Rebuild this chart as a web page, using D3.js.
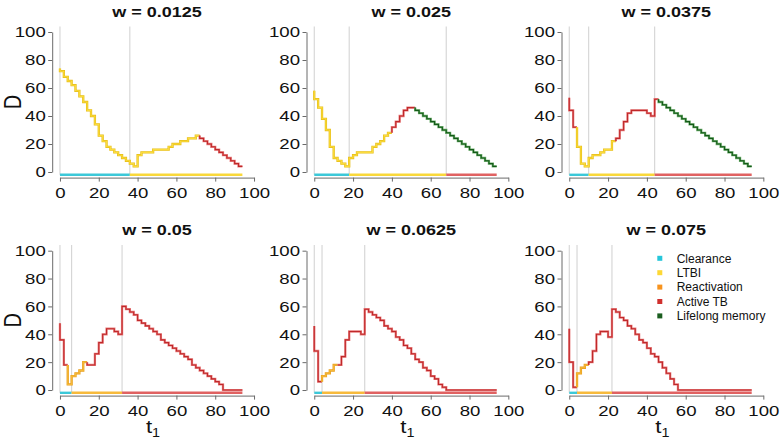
<!DOCTYPE html>
<html><head><meta charset="utf-8">
<script src="https://cdn.jsdelivr.net/npm/d3@7/dist/d3.min.js"></script>
<style>
html,body{margin:0;padding:0;background:#fff;}
svg{display:block;font-family:"Liberation Sans",Arial,sans-serif;}
</style></head>
<body>
<svg id="chart" width="781" height="447"></svg>
<script>
// ---------- DATA ----------
const panelTitles = ["w = 0.0125", "w = 0.025", "w = 0.0375", "w = 0.05", "w = 0.0625", "w = 0.075"];
const stepTimes = [0,2,4,6,8,10,12,14,16,18,20,22,24,26,28,30,32,34,36,38,40,42,44,46,48,50,52,54,56,58,60,62,64,66,68,70,72,74,76,78,80,82,84,86,88,90,92];
const endTime = 94;
const xTicks = [0,20,40,60,80,100];
const yTicks = [0,20,40,60,80,100];

const startD = [74, 58, 53, 48, 46, 44];

const D_w0125 = [72,68,65,62,58,54,50,44,40,34,26,22,18,16,14,12,10,8,6,4,12,14,14,14,16,16,16,16,18,20,20,22,22,24,24,26,24,22,20,18,16,14,12,10,8,6,4];
const D_w025  = [52,46,38,30,18,10,8,6,4,10,12,14,14,14,14,18,20,22,26,28,32,36,40,44,46,46,44,42,40,38,36,34,32,30,28,26,24,22,20,18,16,14,12,10,8,6,4];
const D_w0375 = [44,32,18,6,4,10,12,12,14,16,16,22,24,30,36,42,44,44,44,44,42,40,52,50,48,46,44,42,40,38,36,34,32,30,28,26,24,22,20,18,16,14,12,10,8,6,4];
const D_w05   = [36,18,4,10,12,14,20,18,18,26,34,40,44,44,42,40,60,58,56,54,50,48,46,44,42,40,36,34,32,30,28,26,24,22,18,16,14,12,10,8,6,4,0,0,0,0,0];
const D_w0625 = [28,6,10,12,14,18,18,24,36,42,42,42,40,58,56,54,52,50,46,44,42,38,36,32,30,26,22,20,16,14,10,8,4,2,0,0,0,0,0,0,0,0,0,0,0,0,0];
const D_w075  = [20,2,12,16,18,20,28,40,42,42,38,58,56,52,50,46,44,40,36,34,30,26,24,20,16,12,8,4,0,0,0,0,0,0,0,0,0,0,0,0,0,0,0,0,0,0,0];

// phase of the line from a given time on
const phases_w0125 = [[0,"LTBI"],[72,"Active TB"]];
const phases_w025  = [[0,"LTBI"],[40,"Active TB"],[52,"Lifelong memory"]];
const phases_w0375 = [[0,"Active TB"],[4,"LTBI"],[24,"Active TB"],[46,"Lifelong memory"]];
const phases_w05   = [[0,"Active TB"],[4,"Reactivation"],[14,"Active TB"]];
const phases_w0625 = [[0,"Active TB"],[4,"Reactivation"],[12,"Active TB"]];
const phases_w075  = [[0,"Active TB"],[4,"Reactivation"],[10,"Active TB"]];

// bottom outcome band: [from, to, state]
const band_w0125 = [[0,36,"Clearance"],[36,94,"LTBI"]];
const band_w025  = [[0,18,"Clearance"],[18,68,"LTBI"],[68,94,"Active TB"]];
const band_w0375 = [[0,10,"Clearance"],[10,44,"LTBI"],[44,94,"Active TB"]];
const band_w05   = [[0,6,"Clearance"],[6,32,"Reactivation"],[32,94,"Active TB"]];
const band_w0625 = [[0,4,"Clearance"],[4,26,"Reactivation"],[26,94,"Active TB"]];
const band_w075  = [[0,4,"Clearance"],[4,22,"Reactivation"],[22,94,"Active TB"]];

// vertical reference lines
const grid_w0125 = [0,36];
const grid_w025  = [0,18,68];
const grid_w0375 = [0,10,44];
const grid_w05   = [0,6,32];
const grid_w0625 = [0,4,26];
const grid_w075  = [0,4,22];

const legendLabels = ["Clearance","LTBI","Reactivation","Active TB","Lifelong memory"];
const legendColors = ["#26c6da","#fdd835","#f7931e","#d0302e","#1b5e20"];

// ---------- STYLE ----------
const lineStyle = {
  "LTBI":            {under:"#e6bd16", over:"#fbdc3c"},
  "Reactivation":    {under:"#e89e1c", over:"#f6b938"},
  "Active TB":       {under:"#e98080", over:"#c0282a"},
  "Lifelong memory": {under:"#6cae6c", over:"#145a18"}
};
const bandColor = {"Clearance":"#3cc8d8","LTBI":"#f9d83a","Reactivation":"#f7ba3c","Active TB":"#e06262"};

const SX = 1.2; // horizontal text stretch
const colLeft = [52.2, 306.5, 561.5];
const rowTop = [26.4, 245.1];
const rowBottom = [177.6, 395.6];
const plotW = 209.6;

const panels = [
  {title:panelTitles[0], d0:startD[0], D:D_w0125, phases:phases_w0125, band:band_w0125, grid:grid_w0125},
  {title:panelTitles[1], d0:startD[1], D:D_w025,  phases:phases_w025,  band:band_w025,  grid:grid_w025},
  {title:panelTitles[2], d0:startD[2], D:D_w0375, phases:phases_w0375, band:band_w0375, grid:grid_w0375},
  {title:panelTitles[3], d0:startD[3], D:D_w05,   phases:phases_w05,   band:band_w05,   grid:grid_w05},
  {title:panelTitles[4], d0:startD[4], D:D_w0625, phases:phases_w0625, band:band_w0625, grid:grid_w0625},
  {title:panelTitles[5], d0:startD[5], D:D_w075,  phases:phases_w075,  band:band_w075,  grid:grid_w075}
];

const svg = d3.select("#chart");
svg.append("rect").attr("width",781).attr("height",447).attr("fill","#fff");

function phaseAt(phases, t){
  let p = phases[0][1];
  phases.forEach(([s,name]) => { if (t >= s) p = name; });
  return p;
}

panels.forEach((p, i) => {
  const row = Math.floor(i/3), col = i%3;
  const left = colLeft[col];
  const x = d3.scaleLinear().domain([-4,104]).range([left, left+plotW]);
  const y = d3.scaleLinear().domain([-4,104]).range([rowBottom[row], rowTop[row]]);
  const g = svg.append("g");

  // gridlines
  g.selectAll("line.grid").data(p.grid).join("line")
    .attr("x1", d=>x(d)).attr("x2", d=>x(d))
    .attr("y1", y(104)).attr("y2", y(-2))
    .attr("stroke","#d4d4d4").attr("stroke-width",1.1);

  // band
  g.selectAll("line.band").data(p.band).join("line")
    .attr("x1", d=>x(d[0])).attr("x2", d=>x(d[1]))
    .attr("y1", y(-2)).attr("y2", y(-2))
    .attr("stroke", d=>bandColor[d[2]]).attr("stroke-width",2.4);

  // step line split into phase runs
  const runs = [];
  p.D.forEach((v, k) => {
    const ph = phaseAt(p.phases, stepTimes[k]);
    const last = runs[runs.length-1];
    if (last && last.phase === ph) last.idx.push(k);
    else runs.push({phase:ph, idx:[k]});
  });
  const line = d3.line().x(d=>x(d[0])).y(d=>y(d[1])).curve(d3.curveStepAfter);
  runs.forEach(r => {
    const k0 = r.idx[0];
    const prev = k0 === 0 ? p.d0 : p.D[k0-1];
    const pts = [[stepTimes[k0], prev]];
    r.idx.forEach(k => pts.push([stepTimes[k], p.D[k]]));
    const kl = r.idx[r.idx.length-1];
    const tEnd = kl+1 < stepTimes.length ? stepTimes[kl+1] : endTime;
    pts.push([tEnd, p.D[kl]]);
    const st = lineStyle[r.phase];
    g.append("path").attr("d", line(pts)).attr("fill","none")
      .attr("stroke", st.under).attr("stroke-width",2.3).attr("stroke-linejoin","miter");
    g.append("path").attr("d", line(pts)).attr("fill","none")
      .attr("stroke", st.over).attr("stroke-width",1.1).attr("stroke-linejoin","miter");
  });

  // axes
  const xa = d3.scaleLinear().domain([0,100]).range([x(0), x(100)]);
  const ya = d3.scaleLinear().domain([0,100]).range([y(0), y(100)]);
  const gx = g.append("g").attr("transform",`translate(0,${rowBottom[row]})`)
    .call(d3.axisBottom(xa).tickValues(xTicks).tickSize(4).tickSizeOuter(0).tickPadding(5));
  const gy = g.append("g").attr("transform",`translate(${left},0)`)
    .call(d3.axisLeft(ya).tickValues(yTicks).tickSize(4).tickSizeOuter(0).tickPadding(1.4));
  [gx, gy].forEach(a => {
    a.select(".domain").attr("stroke","#6a6a6a");
    a.selectAll(".tick line").attr("stroke","#6a6a6a");
    a.selectAll("text").attr("font-size",15.5).attr("fill","#111")
      .attr("font-family","Liberation Sans, Arial, sans-serif")
      .attr("transform",`scale(${SX},1)`);
  });

  // title
  const cx = left + plotW/2;
  g.append("text").attr("transform",`translate(${cx},${row===0?17.3:235}) scale(${SX},1)`)
    .attr("text-anchor","middle").attr("font-weight","bold").attr("font-size",15)
    .attr("fill","#111").text(p.title);

  // y label
  if (col === 0) {
    const cy = (y(0)+y(100))/2;
    g.append("text").attr("transform",`translate(20.5,${cy}) scale(${SX},1) rotate(-90)`)
      .attr("text-anchor","middle").attr("font-size",20).attr("fill","#111").text("D");
  }
  // x label
  if (row === 1) {
    const t = g.append("text").attr("transform",`translate(${cx-4},433) scale(${SX},1)`)
      .attr("text-anchor","middle").attr("font-size",18.5).attr("fill","#111");
    t.append("tspan").text("t");
    t.append("tspan").attr("font-size",12).attr("dy",4).text("1");
  }
});

// legend
const lg = svg.append("g");
legendLabels.forEach((lab, k) => {
  const cy = 258.3 + k*14.4;
  lg.append("rect").attr("x",657.3).attr("y",cy-2.5).attr("width",5).attr("height",5).attr("fill",legendColors[k]);
  lg.append("text").attr("x",676.7).attr("y",cy+4.3).attr("font-size",12).attr("fill","#111").text(lab);
});
</script>
</body></html>
